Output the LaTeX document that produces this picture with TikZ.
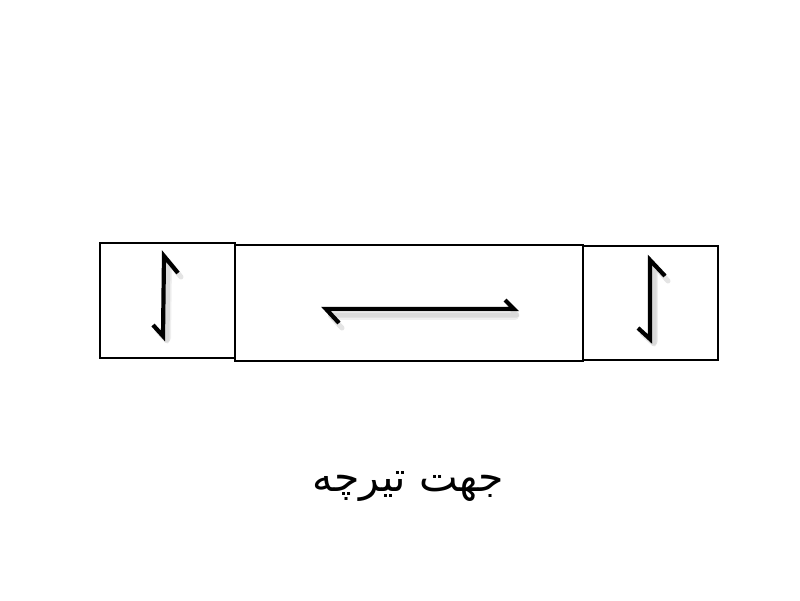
\documentclass[tikz,border=0pt]{standalone}
\usepackage{fontspec}
\newfontfamily\arabicfont[Script=Arabic]{DejaVu Sans}
\TeXXeTstate=1
\begin{document}
\begin{tikzpicture}[x=1pt,y=-1pt,
  boxstyle/.style={draw=black,line width=2.5pt},
  arrowline/.style={draw=black,line width=4.2pt,line cap=butt,line join=miter},
  shadowline/.style={draw=gray!60,line width=5pt,opacity=0.35,line cap=round,line join=round}]
\useasboundingbox (0,0) rectangle (800,600);
\fill[white] (0,0) rectangle (800,600);
% boxes
\draw[boxstyle] (100,243) rectangle (235,358);
\draw[boxstyle] (235,245) rectangle (583,361);
\draw[boxstyle] (583,246) rectangle (718,360);
% shadows
\draw[shadowline] (181,277) -- (168,261) -- (167,341) -- (157,330);
\draw[shadowline] (668,281) -- (654,265) -- (654,344) -- (642,333);
\draw[shadowline] (342,328) -- (330,315) -- (517,315) -- (509,306);
\draw[shadowline,opacity=0.2,line width=8pt] (168,265) -- (167,338);
\draw[shadowline,opacity=0.2,line width=8pt] (654,268) -- (654,341);
\draw[shadowline,opacity=0.2,line width=8pt] (333,316) -- (515,316);
% arrows
\coordinate (la1) at (178,273);
\coordinate (la2) at (164,256);
\coordinate (la3) at (163,336);
\coordinate (la4) at (153,325);
\draw[arrowline] (la1) -- (la2) -- (la3) -- (la4);
\coordinate (ra1) at (665,276);
\coordinate (ra2) at (650,260);
\coordinate (ra3) at (650,339);
\coordinate (ra4) at (638,328);
\draw[arrowline] (ra1) -- (ra2) -- (ra3) -- (ra4);
\coordinate (ma1) at (339,323);
\coordinate (ma2) at (326,309);
\coordinate (ma3) at (514,309);
\coordinate (ma4) at (505,300);
\draw[arrowline] (ma1) -- (ma2) -- (ma3) -- (ma4);
% label
\node[inner sep=0pt] (label) at (408,486) {\fontsize{41}{48}\selectfont\arabicfont\beginR جهت تیرچه\endR};
\end{tikzpicture}
\end{document}
